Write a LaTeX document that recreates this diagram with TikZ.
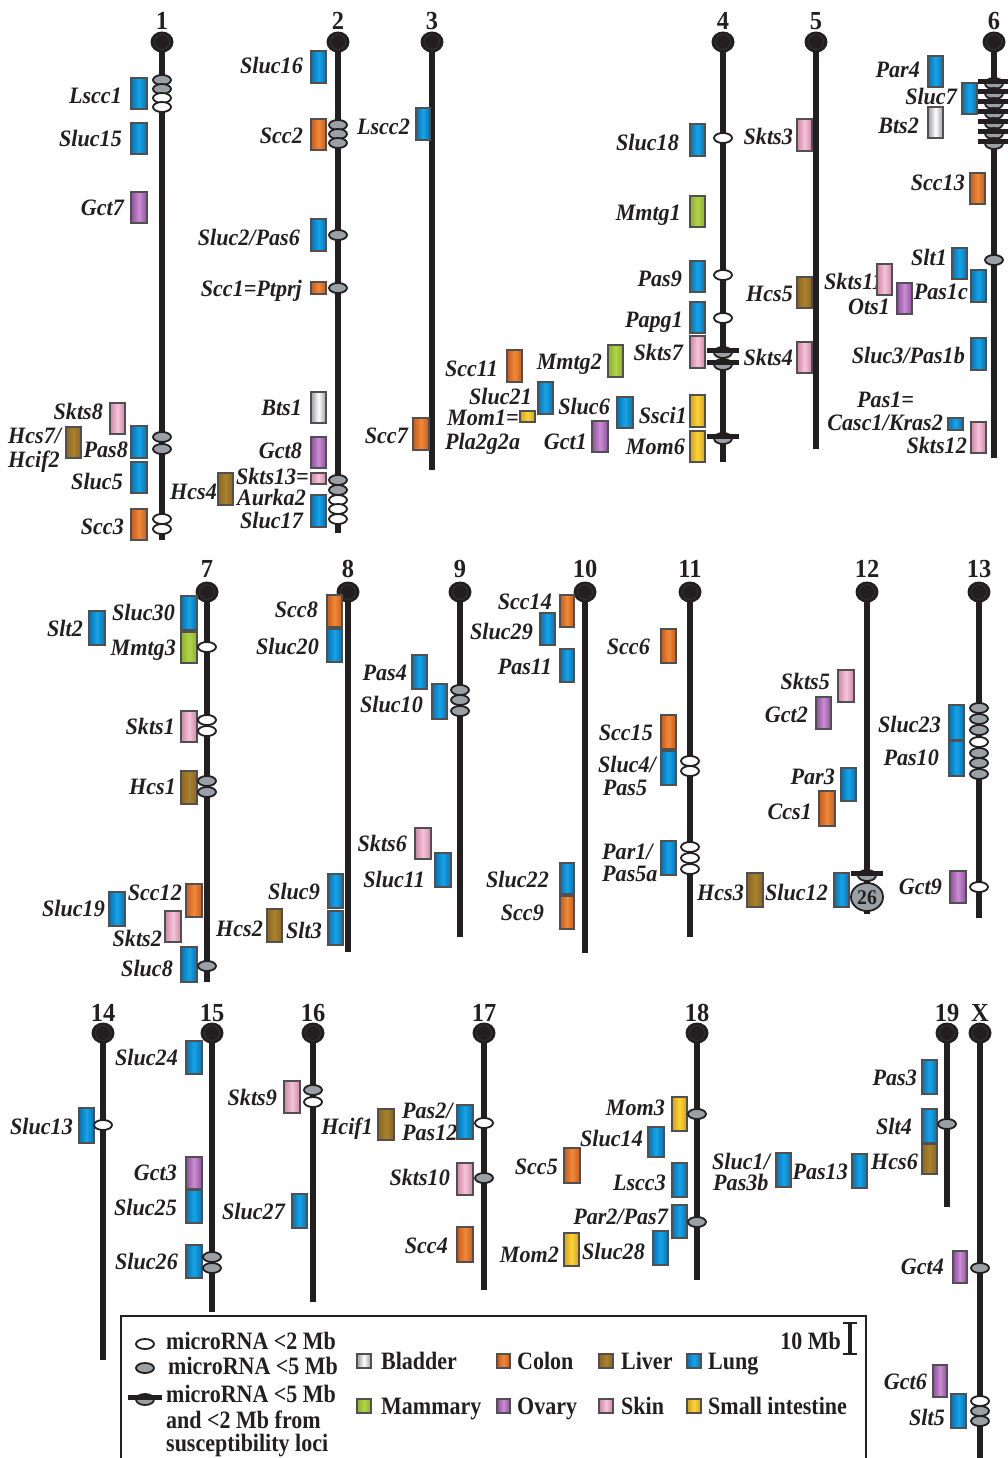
\documentclass[tikz,border=0pt]{standalone}
\usepackage{fontspec}
\setmainfont{Liberation Serif}
\newfontfamily\labfam[FakeStretch=0.94]{Liberation Serif}
\newfontfamily\legfam[FakeStretch=0.88]{Liberation Serif}
\definecolor{chrblack}{HTML}{231F20}
\definecolor{boxedge}{HTML}{505050}
\definecolor{mirgray}{HTML}{99A1A7}
\definecolor{lungD}{HTML}{0672B4}\definecolor{lungL}{HTML}{16A4E6}
\definecolor{colonD}{HTML}{C85A1C}\definecolor{colonL}{HTML}{F08A3A}
\definecolor{liverD}{HTML}{8C6420}\definecolor{liverL}{HTML}{A9822F}
\definecolor{skinD}{HTML}{CC86A6}\definecolor{skinL}{HTML}{F6C4DA}
\definecolor{ovaryD}{HTML}{8E4E9E}\definecolor{ovaryL}{HTML}{CA8ED2}
\definecolor{mamD}{HTML}{8EB02C}\definecolor{mamL}{HTML}{B0D448}
\definecolor{smiD}{HTML}{D9A010}\definecolor{smiL}{HTML}{FAD43A}
\definecolor{bladD}{HTML}{9A9CA4}\definecolor{bladL}{HTML}{FFFFFF}
\tikzset{
 chrline/.style={line width=5.5pt, draw=chrblack},
 lab/.style={font=\labfam\bfseries\itshape\fontsize{23.5}{26}\selectfont, inner sep=0pt, text height=15.5pt, text depth=0pt, text=chrblack},
 numlab/.style={font=\labfam\bfseries\fontsize{26}{28}\selectfont, inner sep=0pt, text=chrblack},
 leg/.style={font=\legfam\bfseries\fontsize{25}{28}\selectfont, inner sep=0pt, text height=16.5pt, text depth=0pt, anchor=west, text=chrblack},
 locbox/.style={draw=boxedge, line width=1.2pt},
 lung/.style={locbox, left color=lungD, right color=lungD, middle color=lungL},
 colon/.style={locbox, left color=colonD, right color=colonD, middle color=colonL},
 liver/.style={locbox, left color=liverD, right color=liverD, middle color=liverL},
 skin/.style={locbox, left color=skinD, right color=skinD, middle color=skinL},
 ovary/.style={locbox, left color=ovaryD, right color=ovaryD, middle color=ovaryL},
 mammary/.style={locbox, left color=mamD, right color=mamD, middle color=mamL},
 smint/.style={locbox, left color=smiD, right color=smiD, middle color=smiL},
 bladder/.style={locbox, left color=bladD, right color=bladD, middle color=bladL},
 mirw/.style={draw=chrblack, line width=1.8pt, fill=white},
 mirg/.style={draw=chrblack, line width=1.8pt, fill=mirgray},
 barm/.style={line width=5pt, draw=chrblack},
}
\newcommand\lbL[4]{\node[lab,anchor=east] (#1) at (#2,#3) {#4};}
\newcommand\lbR[4]{\node[lab,anchor=west] (#1) at (#2,#3) {#4};}
\newcommand\lbC[4]{\node[lab,anchor=center] (#1) at (#2,#3) {#4};}
\newcommand\locbx[5]{\draw[#1] (#2,#3) rectangle (#4,#5);}
\newcommand\mirW[2]{\draw[mirw] (#1,#2) ellipse [x radius=9pt, y radius=5pt];}
\newcommand\mirG[2]{\draw[mirg] (#1,#2) ellipse [x radius=9pt, y radius=5pt];}
\newcommand\mirS[3]{\draw[mirg] (#1,#2+1.5) ellipse [x radius=9pt, y radius=5.5pt];
 \draw[barm] (#1-#3,#2-0.5) -- (#1+#3,#2-0.5);}
\newcommand\chro[6]{\draw[chrline] (#2,#3) -- (#2,#4);
 \fill[chrblack] (#2,#3) ellipse [x radius=11.5pt, y radius=10.5pt];
 \draw[gray!45!black, line width=0.6pt] (#2,#3) circle [radius=7.5pt];
 \node[numlab, anchor=base] (#1) at (#2,#6) {#5};}
\begin{document}
\begin{tikzpicture}[x=1pt,y=-1pt]
\useasboundingbox (0,0) rectangle (1007,1458);
% ---------- chromosomes ----------
\chro{c1}{162}{42}{540}{1}{30}
\chro{c2}{338}{42}{533}{2}{30}
\chro{c3}{432}{42}{470}{3}{30}
\chro{c4}{723}{42}{462}{4}{30}
\chro{c5}{816}{42}{449}{5}{30}
\chro{c6}{994}{42}{458}{6}{30}
\chro{c7}{207}{592}{982}{7}{577}
\chro{c8}{348}{592}{952}{8}{577}
\chro{c9}{460}{592}{937}{9}{577}
\chro{c10}{585}{592}{953}{10}{577}
\chro{c11}{690}{592}{937}{11}{577}
\chro{c12}{867}{592}{914}{12}{577}
\chro{c13}{979}{592}{918}{13}{577}
\chro{c14}{103}{1033}{1360}{14}{1021}
\chro{c15}{212}{1033}{1312}{15}{1021}
\chro{c16}{313}{1033}{1302}{16}{1021}
\chro{c17}{484}{1033}{1290}{17}{1021}
\chro{c18}{697}{1033}{1280}{18}{1021}
\chro{c19}{947}{1033}{1207}{19}{1021}
\chro{cX}{980}{1033}{1470}{X}{1021}
% ---------- labels ----------
\lbL{tLscc1}{122}{96}{Lscc1}
\lbL{tSluc15}{122}{139}{Sluc15}
\lbL{tGct7}{124}{208}{Gct7}
\lbL{tSkts8}{103}{412}{Skts8}
\lbR{tHcs7}{8}{436}{Hcs7/}
\lbR{tHcif2}{8}{460}{Hcif2}
\lbL{tPas8}{128}{450}{Pas8}
\lbL{tSluc5}{123}{482}{Sluc5}
\lbL{tScc3}{124}{527}{Scc3}
\lbL{tSluc16}{303}{66}{Sluc16}
\lbL{tScc2}{303}{136}{Scc2}
\lbL{tSluc2}{300}{238}{Sluc2/Pas6}
\lbL{tScc1}{302}{289}{Scc1=Ptprj}
\lbL{tBts1}{302}{408}{Bts1}
\lbL{tGct8}{302}{451}{Gct8}
\lbL{tSkts13}{309}{477}{Skts13=}
\lbL{tHcs4}{217}{492}{Hcs4}
\lbL{tAurka2}{306}{498}{Aurka2}
\lbL{tSluc17}{303}{521}{Sluc17}
\lbL{tLscc2}{410}{127}{Lscc2}
\lbL{tScc7}{408}{436}{Scc7}
\lbL{tScc11}{498}{369}{Scc11}
\lbL{tMmtg2}{602}{362}{Mmtg2}
\lbL{tSluc21}{532}{397}{Sluc21}
\lbR{tMom1}{447}{418}{Mom1=}
\lbR{tPla}{445}{442}{Pla2g2a}
\lbL{tSluc6}{610}{407}{Sluc6}
\lbL{tGct1}{587}{442}{Gct1}
\lbL{tSluc18}{679}{143}{Sluc18}
\lbL{tMmtg1}{681}{213}{Mmtg1}
\lbL{tPas9}{682}{279}{Pas9}
\lbL{tPapg1}{683}{320}{Papg1}
\lbL{tSkts7}{683}{353}{Skts7}
\lbL{tSsci1}{687}{416}{Ssci1}
\lbL{tMom6}{685}{447}{Mom6}
\lbL{tSkts3}{793}{137}{Skts3}
\lbL{tHcs5}{793}{294}{Hcs5}
\lbL{tSkts4}{793}{358}{Skts4}
\lbL{tPar4}{920}{70}{Par4}
\lbL{tSluc7}{957}{97}{Sluc7}
\lbL{tBts2}{919}{126}{Bts2}
\lbL{tScc13}{965}{183}{Scc13}
\lbL{tSlt1}{947}{258}{Slt1}
\lbR{tSkts11}{824}{282}{Skts11}
\lbL{tOts1}{890}{307}{Ots1}
\lbL{tPas1c}{968}{292}{Pas1c}
\lbL{tSluc3}{965}{356}{Sluc3/Pas1b}
\lbR{tPas1}{857}{400}{Pas1=}
\lbL{tCasc1}{943}{423}{Casc1/Kras2}
\lbL{tSkts12}{967}{446}{Skts12}
\lbL{tSluc30}{175}{613}{Sluc30}
\lbL{tSlt2}{83}{629}{Slt2}
\lbL{tMmtg3}{176}{648}{Mmtg3}
\lbL{tSkts1}{175}{727}{Skts1}
\lbL{tHcs1}{176}{787}{Hcs1}
\lbL{tScc12}{182}{893}{Scc12}
\lbL{tSluc19}{105}{909}{Sluc19}
\lbL{tSkts2}{162}{939}{Skts2}
\lbL{tSluc8}{173}{969}{Sluc8}
\lbL{tScc8}{318}{610}{Scc8}
\lbL{tSluc20}{319}{647}{Sluc20}
\lbL{tSluc9}{320}{892}{Sluc9}
\lbL{tHcs2}{263}{929}{Hcs2}
\lbL{tSlt3}{322}{931}{Slt3}
\lbL{tPas4}{407}{673}{Pas4}
\lbL{tSluc10}{423}{705}{Sluc10}
\lbL{tSkts6}{407}{844}{Skts6}
\lbL{tSluc11}{425}{880}{Sluc11}
\lbL{tScc14}{552}{602}{Scc14}
\lbL{tSluc29}{533}{632}{Sluc29}
\lbL{tPas11}{552}{667}{Pas11}
\lbL{tSluc22}{549}{880}{Sluc22}
\lbL{tScc9}{544}{913}{Scc9}
\lbL{tScc6}{650}{647}{Scc6}
\lbL{tScc15}{653}{733}{Scc15}
\lbC{tSluc4}{627}{765}{Sluc4/}
\lbC{tPas5}{625}{788}{Pas5}
\lbR{tPar1}{602}{852}{Par1/}
\lbR{tPas5a}{602}{874}{Pas5a}
\lbL{tSkts5}{830}{682}{Skts5}
\lbL{tGct2}{808}{715}{Gct2}
\lbL{tPar3}{835}{777}{Par3}
\lbL{tCcs1}{812}{812}{Ccs1}
\lbL{tHcs3}{744}{893}{Hcs3}
\lbL{tSluc12}{828}{893}{Sluc12}
\lbL{tSluc23}{941}{725}{Sluc23}
\lbL{tPas10}{939}{758}{Pas10}
\lbL{tGct9}{942}{887}{Gct9}
\lbL{tSluc13}{73}{1127}{Sluc13}
\lbL{tSluc24}{178}{1058}{Sluc24}
\lbL{tGct3}{177}{1173}{Gct3}
\lbL{tSluc25}{177}{1208}{Sluc25}
\lbL{tSluc26}{178}{1262}{Sluc26}
\lbL{tSkts9}{277}{1098}{Skts9}
\lbL{tSluc27}{285}{1212}{Sluc27}
\lbL{tHcif1}{373}{1127}{Hcif1}
\lbR{tPas2}{402}{1111}{Pas2/}
\lbR{tPas12}{402}{1133}{Pas12}
\lbL{tSkts10}{450}{1178}{Skts10}
\lbL{tScc4}{448}{1246}{Scc4}
\lbL{tMom3}{665}{1108}{Mom3}
\lbL{tSluc14}{643}{1139}{Sluc14}
\lbL{tScc5}{558}{1167}{Scc5}
\lbL{tLscc3}{666}{1183}{Lscc3}
\lbL{tPar2}{668}{1217}{Par2/Pas7}
\lbL{tSluc28}{645}{1252}{Sluc28}
\lbL{tMom2}{559}{1255}{Mom2}
\lbR{tSluc1}{712}{1162}{Sluc1/}
\lbR{tPas3b}{713}{1183}{Pas3b}
\lbL{tPas13}{848}{1172}{Pas13}
\lbL{tPas3}{917}{1078}{Pas3}
\lbL{tSlt4}{912}{1127}{Slt4}
\lbL{tHcs6}{918}{1162}{Hcs6}
\lbL{tGct4}{944}{1267}{Gct4}
\lbL{tGct6}{927}{1382}{Gct6}
\lbL{tSlt5}{945}{1418}{Slt5}
% ---------- loci boxes ----------
\locbx{lung}{131}{78}{147}{109}
\locbx{lung}{131}{123}{147}{154}
\locbx{ovary}{131}{192}{147}{223}
\locbx{skin}{110}{403}{125}{434}
\locbx{liver}{66}{427}{81}{458}
\locbx{lung}{131}{426}{147}{458}
\locbx{lung}{131}{462}{147}{493}
\locbx{colon}{131}{509}{147}{540}
\locbx{lung}{311}{51}{326}{83}
\locbx{colon}{311}{119}{326}{150}
\locbx{lung}{311}{219}{326}{251}
\locbx{colon}{311}{282}{326}{294}
\locbx{bladder}{311}{392}{326}{423}
\locbx{ovary}{311}{437}{326}{468}
\locbx{skin}{311}{473}{326}{484}
\locbx{liver}{218}{473}{233}{505}
\locbx{lung}{311}{495}{326}{527}
\locbx{lung}{416}{108}{430}{140}
\locbx{colon}{413}{418}{429}{450}
\locbx{colon}{507}{350}{522}{382}
\locbx{mammary}{608}{345}{623}{377}
\locbx{lung}{538}{382}{553}{414}
\locbx{smint}{520}{411}{535}{422}
\locbx{lung}{617}{397}{633}{428}
\locbx{ovary}{592}{421}{608}{452}
\locbx{lung}{690}{124}{705}{156}
\locbx{mammary}{690}{196}{705}{227}
\locbx{lung}{690}{261}{705}{292}
\locbx{lung}{690}{302}{705}{333}
\locbx{skin}{690}{336}{705}{368}
\locbx{smint}{690}{395}{705}{427}
\locbx{smint}{690}{431}{705}{462}
\locbx{skin}{797}{119}{812}{151}
\locbx{liver}{797}{277}{812}{308}
\locbx{skin}{797}{342}{812}{373}
\locbx{lung}{928}{56}{943}{87}
\locbx{lung}{962}{83}{977}{114}
\locbx{bladder}{928}{107}{943}{138}
\locbx{colon}{970}{173}{985}{204}
\locbx{lung}{952}{248}{967}{279}
\locbx{lung}{971}{270}{986}{302}
\locbx{skin}{877}{264}{892}{295}
\locbx{ovary}{897}{283}{912}{314}
\locbx{lung}{971}{338}{986}{370}
\locbx{lung}{948}{418}{963}{430}
\locbx{skin}{971}{422}{986}{453}
\locbx{lung}{181}{596}{197}{630}
\locbx{lung}{89}{611}{105}{645}
\locbx{mammary}{181}{632}{197}{663}
\locbx{skin}{181}{711}{197}{742}
\locbx{liver}{181}{771}{197}{804}
\locbx{colon}{186}{884}{202}{917}
\locbx{lung}{109}{892}{125}{926}
\locbx{skin}{165}{911}{181}{942}
\locbx{lung}{181}{947}{197}{982}
\locbx{colon}{327}{595}{342}{627}
\locbx{lung}{327}{629}{342}{662}
\locbx{lung}{328}{874}{343}{908}
\locbx{lung}{328}{911}{343}{945}
\locbx{liver}{267}{909}{282}{942}
\locbx{lung}{412}{655}{427}{689}
\locbx{lung}{432}{684}{447}{719}
\locbx{skin}{415}{828}{431}{859}
\locbx{lung}{435}{853}{451}{887}
\locbx{colon}{560}{595}{574}{627}
\locbx{lung}{540}{613}{555}{645}
\locbx{lung}{560}{649}{574}{682}
\locbx{lung}{560}{863}{574}{894}
\locbx{colon}{560}{896}{574}{929}
\locbx{colon}{661}{629}{676}{663}
\locbx{colon}{661}{715}{676}{749}
\locbx{lung}{661}{751}{676}{785}
\locbx{lung}{661}{841}{676}{875}
\locbx{skin}{838}{670}{854}{702}
\locbx{ovary}{816}{697}{831}{729}
\locbx{lung}{841}{768}{856}{801}
\locbx{colon}{819}{791}{835}{826}
\locbx{lung}{834}{873}{849}{907}
\locbx{liver}{747}{873}{763}{907}
\locbx{lung}{949}{705}{964}{740}
\locbx{lung}{949}{741}{964}{776}
\locbx{ovary}{950}{871}{966}{903}
\locbx{lung}{79}{1108}{94}{1143}
\locbx{lung}{186}{1041}{202}{1074}
\locbx{ovary}{186}{1157}{202}{1189}
\locbx{lung}{186}{1190}{202}{1223}
\locbx{lung}{186}{1245}{202}{1278}
\locbx{skin}{284}{1081}{300}{1113}
\locbx{lung}{292}{1194}{307}{1228}
\locbx{liver}{378}{1109}{394}{1140}
\locbx{lung}{457}{1105}{473}{1139}
\locbx{skin}{457}{1163}{473}{1195}
\locbx{colon}{457}{1227}{473}{1262}
\locbx{smint}{672}{1097}{687}{1131}
\locbx{lung}{648}{1127}{664}{1157}
\locbx{colon}{564}{1148}{580}{1183}
\locbx{lung}{672}{1163}{687}{1197}
\locbx{lung}{672}{1205}{687}{1238}
\locbx{lung}{653}{1231}{668}{1265}
\locbx{smint}{564}{1233}{579}{1266}
\locbx{lung}{776}{1153}{791}{1187}
\locbx{lung}{852}{1154}{867}{1188}
\locbx{lung}{922}{1060}{937}{1094}
\locbx{lung}{922}{1109}{937}{1143}
\locbx{liver}{922}{1144}{937}{1174}
\locbx{ovary}{953}{1251}{967}{1283}
\locbx{ovary}{933}{1365}{947}{1397}
\locbx{lung}{951}{1394}{966}{1428}
% ---------- microRNA markers ----------
\mirG{162}{80}\mirG{162}{89}\mirW{162}{98}\mirW{162}{107}
\mirG{162}{437}\mirG{162}{449}\mirW{162}{519}\mirW{162}{529}
\mirG{338}{125}\mirG{338}{134}\mirG{338}{143}\mirG{338}{235}\mirG{338}{288}
\mirG{338}{480}\mirG{338}{490}\mirW{338}{500}\mirW{338}{509}\mirW{338}{519}
\mirW{723}{138}\mirW{723}{275}\mirW{723}{318}
\mirS{723}{351}{16}\mirS{723}{363}{16}\mirS{723}{437}{16}
\foreach \yy in {82,92,...,142} {\mirS{994}{\yy}{16}}
\mirG{994}{260}
\mirW{207}{647}\mirW{207}{720}\mirW{207}{731}\mirG{207}{781}\mirG{207}{792}\mirG{207}{966}
\mirG{460}{690}\mirG{460}{700}\mirG{460}{711}
\mirW{690}{761}\mirW{690}{771}\mirW{690}{847}\mirW{690}{858}\mirW{690}{869}
\mirS{867}{874}{16}
\draw[mirg] (867,897) ellipse [x radius=16pt, y radius=14pt];
\node[font=\labfam\bfseries\fontsize{21}{22}\selectfont, inner sep=0pt, text=chrblack] (n26) at (867,898) {26};
\mirG{979}{708}\mirG{979}{719}\mirG{979}{730}\mirW{979}{742}\mirG{979}{753}\mirG{979}{763}\mirG{979}{774}
\mirW{979}{887}
\mirW{103}{1125}
\mirG{212}{1257}\mirG{212}{1268}
\mirG{313}{1090}\mirW{313}{1102}
\mirW{484}{1123}\mirG{484}{1178}
\mirG{697}{1114}\mirG{697}{1222}
\mirG{947}{1124}
\mirG{980}{1268}\mirW{980}{1401}\mirG{980}{1411}\mirG{980}{1421}
% ---------- legend ----------
\draw[line width=2pt, chrblack] (121,1470) -- (121,1316) -- (866,1316) -- (866,1470);
\mirW{145}{1344}\mirG{145}{1368}\mirS{145}{1398}{17}
\node[leg] (lg1) at (166,1341) {microRNA <2 Mb};
\node[leg] (lg2) at (168,1366) {microRNA <5 Mb};
\node[leg] (lg3) at (166,1394) {microRNA <5 Mb};
\node[leg] (lg4) at (166,1420) {and <2 Mb from};
\node[leg] (lg5) at (166,1443) {susceptibility loci};
\locbx{bladder}{357}{1354}{371}{1368}
\locbx{colon}{497}{1354}{510}{1368}
\locbx{liver}{599}{1354}{613}{1368}
\locbx{lung}{687}{1354}{701}{1368}
\locbx{mammary}{357}{1399}{371}{1413}
\locbx{ovary}{497}{1399}{510}{1413}
\locbx{skin}{599}{1399}{613}{1413}
\locbx{smint}{687}{1399}{701}{1413}
\node[leg] (lgB) at (381,1361) {Bladder};
\node[leg] (lgC) at (517,1361) {Colon};
\node[leg] (lgL) at (621,1361) {Liver};
\node[leg] (lgU) at (708,1361) {Lung};
\node[leg] (lgM) at (381,1406) {Mammary};
\node[leg] (lgO) at (517,1406) {Ovary};
\node[leg] (lgS) at (621,1406) {Skin};
\node[leg] (lgI) at (708,1406) {Small intestine};
\node[leg, anchor=east] (lgMb) at (841,1341) {10 Mb};
\draw[line width=3.5pt, chrblack] (850,1323) -- (850,1354);
\draw[line width=2.5pt, chrblack] (843,1323) -- (857,1323) (843,1354) -- (857,1354);
\end{tikzpicture}
\end{document}
